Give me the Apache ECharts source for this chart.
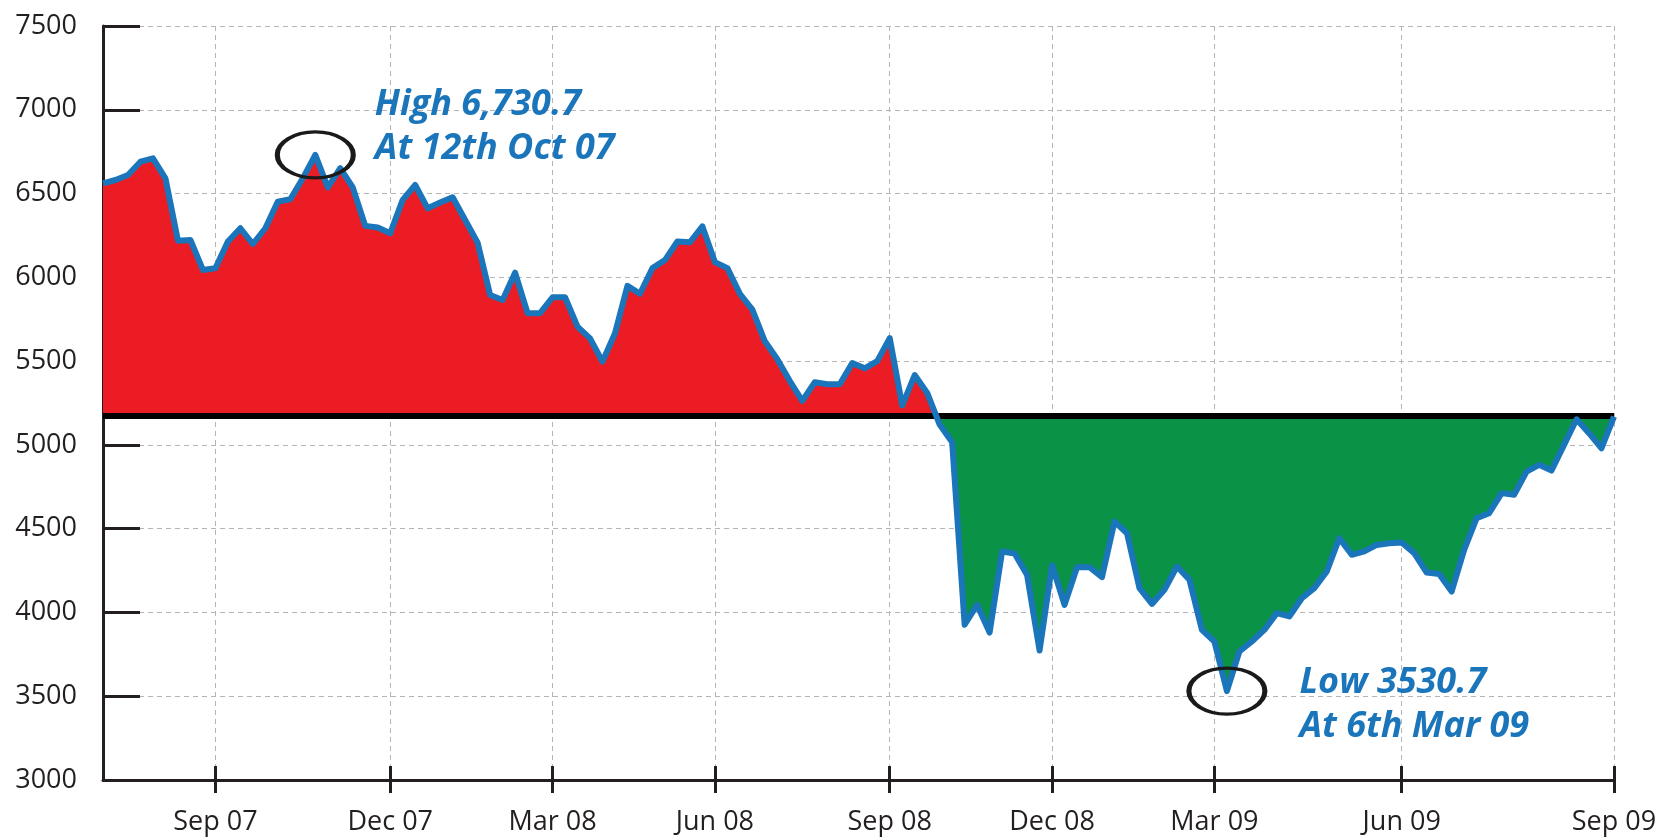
<!DOCTYPE html>
<html><head><meta charset="utf-8">
<script src="https://cdn.jsdelivr.net/npm/echarts@6/dist/echarts.min.js"></script>
<style>html,body{margin:0;padding:0;background:#fff}#c{width:1672px;height:839px}</style>
</head><body><div id="c"></div>
<script>
// Weekly index values
const values = [6561, 6581, 6611, 6690, 6710, 6591, 6219, 6223, 6044, 6054,
  6213, 6293, 6199, 6293, 6452, 6466, 6591, 6730.7, 6537, 6651,
  6537, 6307, 6297, 6263, 6462, 6551, 6412, 6446, 6478, 6342,
  6207, 5895, 5865, 6028, 5786, 5786, 5881, 5881, 5706, 5636,
  5497, 5666, 5949, 5902, 6055, 6103, 6214, 6209, 6304, 6091,
  6055, 5902, 5807, 5618, 5511, 5381, 5263, 5374, 5362, 5362,
  5488, 5457, 5500, 5637, 5235, 5417, 5310, 5121, 5015, 3927,
  4045, 3880, 4364, 4352, 4223, 3773, 4282, 4045, 4270, 4270,
  4211, 4542, 4473, 4145, 4051, 4135, 4274, 4195, 3896, 3827,
  3530.7, 3767, 3827, 3896, 3996, 3976, 4085, 4145, 4244, 4443,
  4344, 4364, 4403, 4413, 4417, 4354, 4238, 4230, 4125, 4374,
  4563, 4592, 4712, 4702, 4841, 4881, 4847, 5000, 5153, 5070,
  4980, 5169];
const baseline = 5175;
const tickLabels = ['Sep 07', 'Dec 07', 'Mar 08', 'Jun 08', 'Sep 08', 'Dec 08', 'Mar 09', 'Jun 09', 'Sep 09'];
const tickWeek = [9, 23, 36, 49, 63, 76, 89, 104, 121];
const yMin = 3000, yMax = 7500, yStep = 500;
const highText = ['High 6,730.7', 'At 12th Oct 07'];
const lowText = ['Low 3530.7', 'At 6th Mar 09'];

const weeks = values.map((_, i) => 'W' + (i + 1));
const labelAt = {};
tickWeek.forEach((w, k) => { labelAt[w] = tickLabels[k]; });
const isTick = (i) => labelAt[i] !== undefined;

const RED = '#ec1c24', GREEN = '#0a9247', BLUE = '#1b75bb', INK = '#231f20';
const ellipse = 'path://M0,25A50,25,0,1,1,100,25A50,25,0,1,1,0,25Z';
const annoLabel = {
  show: true, position: 'right', distance: 0,
  color: BLUE, fontSize: 36, fontWeight: 'bold', fontStyle: 'italic',
  fontFamily: 'Open Sans', lineHeight: 44, align: 'left'
};

const chart = echarts.init(document.getElementById('c'), null, { renderer: 'canvas' });
chart.setOption({
  animation: false,
  backgroundColor: '#ffffff',
  grid: { left: 103, right: 58, top: 26, bottom: 59, containLabel: false },
  xAxis: [{
    type: 'category', data: weeks, boundaryGap: false, position: 'bottom',
    axisLine: { show: true, lineStyle: { color: INK, width: 3 } },
    axisTick: { show: true, inside: false, length: 13, interval: isTick, lineStyle: { color: INK, width: 3 } },
    axisLabel: { show: true, interval: isTick, formatter: (v, i) => labelAt[i] || '',
      color: INK, fontSize: 27, fontFamily: 'Open Sans', margin: 29 },
    splitLine: { show: true, interval: isTick, lineStyle: { color: '#b5b5b5', width: 1, type: [5, 4] } }
  }, {
    type: 'category', data: weeks, boundaryGap: false, position: 'bottom',
    axisLine: { show: false },
    axisTick: { show: true, inside: true, length: 14, interval: isTick, lineStyle: { color: INK, width: 3 } },
    axisLabel: { show: false }, splitLine: { show: false }
  }],
  yAxis: {
    type: 'value', min: yMin, max: yMax, interval: yStep,
    axisLine: { show: true, lineStyle: { color: INK, width: 3 } },
    axisTick: { show: true, inside: true, length: 37, lineStyle: { color: INK, width: 3 } },
    axisLabel: { color: INK, fontSize: 27, fontFamily: 'Open Sans', margin: 26, padding: [0, 0, 6, 0],
      formatter: (v) => String(v) },
    splitLine: { show: true, lineStyle: { color: '#b5b5b5', width: 1, type: [5, 4] } }
  },
  visualMap: {
    show: false, type: 'piecewise', seriesIndex: 0, dimension: 1,
    pieces: [{ gt: baseline, lte: yMax, color: RED }, { gte: yMin, lte: baseline, color: GREEN }]
  },
  series: [{
    type: 'line', data: values, symbol: 'none', z: 2,
    lineStyle: { width: 0 },
    areaStyle: { origin: baseline, opacity: 1 },
    markLine: {
      silent: true, symbol: ['none', 'none'], z: 3,
      label: { show: false },
      lineStyle: { color: '#000', width: 6, type: 'solid' },
      data: [{ yAxis: baseline }]
    }
  }, {
    type: 'line', data: values, symbol: 'none', z: 4,
    lineStyle: { color: BLUE, width: 6, join: 'round' },
    markPoint: {
      z: 6, silent: true,
      symbol: ellipse, symbolSize: [76, 46], symbolKeepAspect: false,
      itemStyle: { color: 'rgba(0,0,0,0)', borderColor: '#1a1a1a', borderWidth: 4 },
      data: [
        { type: 'max', label: Object.assign({}, annoLabel, { formatter: highText.join('\n'), offset: [19, -28] }) },
        { type: 'min', label: Object.assign({}, annoLabel, { formatter: lowText.join('\n'), offset: [32, 14] }) }
      ]
    }
  }]
});
</script></body></html>
